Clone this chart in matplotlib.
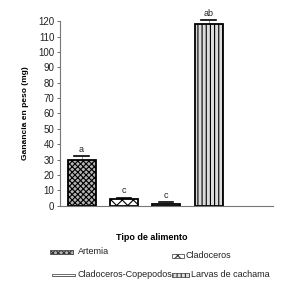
import numpy as np
import matplotlib
matplotlib.use("Agg")
import matplotlib.pyplot as plt
from matplotlib.patches import Rectangle

plt.rcParams['font.family'] = ['Liberation Sans', 'DejaVu Sans']
plt.rcParams['hatch.linewidth'] = 0.8

# datos
alimentos = ["Artemia", "Cladoceros", "Cladoceros-Copepodos", "Larvas de cachama"]
ganancia = [29.8, 4.2, 1.1, 118.0]
error = [2.6, 1.1, 1.3, 2.6]
letras = ["a", "c", "c", "ab"]
yticks = list(range(0, 121, 10))

hatches = ["xxxxxx", "xxx", "----", "||||"]
caras = ["#b4b4b4", "#ffffff", "#ffffff", "#dcdcdc"]

fig = plt.figure(figsize=(2.91, 2.92), dpi=100)
ax = fig.add_axes([0.206, 0.2955, 0.732, 0.632])

x = np.arange(len(alimentos))
for i in range(len(alimentos)):
    ax.bar(x[i], ganancia[i], width=0.66, color=caras[i], edgecolor="black",
           hatch=hatches[i], linewidth=1.3, zorder=2)
    ax.errorbar(x[i], ganancia[i], yerr=[[0], [error[i]]], fmt="none",
                ecolor="#888888", elinewidth=0.6, capsize=0, zorder=1, clip_on=False)
    ax.plot([x[i] - 0.17, x[i] + 0.17], [ganancia[i] + error[i]] * 2,
            color="black", lw=1.2, clip_on=False, zorder=3)
    ax.text(x[i], ganancia[i] + error[i] + 1.5, letras[i], ha="center", va="bottom",
            fontsize=6.5, color="#222222")

ax.set_xlim(-0.51, 4.52)
ax.set_ylim(0, 120)
ax.set_yticks(yticks)
ax.set_xticks([])
ax.tick_params(axis="y", labelsize=7, length=2.5, width=0.6, color="#555555",
               pad=1.5, labelcolor="#222222")
for s in ["top", "right"]:
    ax.spines[s].set_visible(False)
for s in ["left", "bottom"]:
    ax.spines[s].set_color("#777777")
    ax.spines[s].set_linewidth(0.8)

ax.set_ylabel("Ganancia en peso (mg)", fontsize=6, fontweight="bold", labelpad=7)
fig.text(0.522, 0.188, "Tipo de alimento", ha="center", va="center",
         fontsize=6.5, fontweight="bold")

# leyenda manual
leyenda = [
    (0.172, 0.862, 0.08, 0.014, 0.268),
    (0.591, 0.876, 0.04, 0.014, 0.638),
    (0.179, 0.941, 0.08, 0.006, 0.268),
    (0.591, 0.941, 0.058, 0.012, 0.657),
]
for i, (lx, ly, w, h, tx) in enumerate(leyenda):
    r = Rectangle((lx, 1 - ly - h / 2), w, h, transform=fig.transFigure,
                  facecolor=caras[i], edgecolor="#333333", hatch=hatches[i],
                  linewidth=0.5)
    fig.add_artist(r)
    fig.text(tx, 1 - ly, alimentos[i], ha="left", va="center", fontsize=6.5,
             color="#222222")

fig.savefig("out.png", dpi=100)
